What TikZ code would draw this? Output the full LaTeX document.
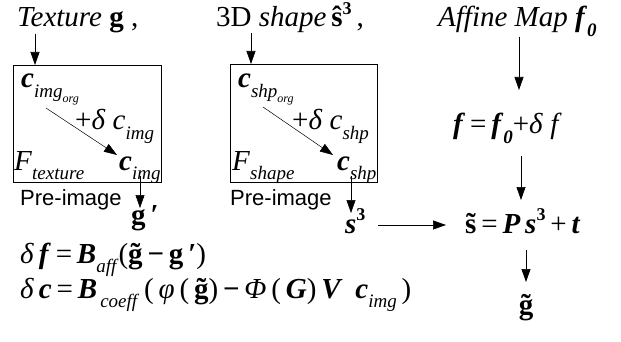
\documentclass[tikz,border=0pt]{standalone}
\usepackage{fontspec}
\setmainfont{Liberation Serif}
\setsansfont{Liberation Sans}
\usetikzlibrary{arrows.meta}
\newcommand\bi[1]{\textbf{\textit{#1}}}
\newcommand\sbs[1]{\raisebox{-0.32em}{\fontsize{19}{19}\selectfont\textit{#1}}}
\newcommand\ssbs[1]{\raisebox{-0.3em}{\fontsize{12}{12}\selectfont\textit{#1}}}
\newcommand\sps[1]{\raisebox{0.42em}{\fontsize{18}{18}\selectfont #1}}
\newcommand\tld[1]{\leavevmode\hbox{\ooalign{#1\cr\hidewidth\char"02DC\hidewidth\cr}}}
\begin{document}
\begin{tikzpicture}[x=1pt,y=-1pt,
  lbl/.style={anchor=base west,inner sep=0pt,font=\fontsize{29}{29}\selectfont},
  pre/.style={anchor=base west,inner sep=0pt,font=\sffamily\fontsize{22}{22}\selectfont},
  boxx/.style={draw,line width=0.8pt,inner sep=0pt},
  arr/.style={-{Triangle[length=13pt,width=9pt]},line width=0.7pt}]
\useasboundingbox (0,0) rectangle (621,342);
% titles
\node[lbl] (tex) at (17,27) {\textit{Texture} \textbf{g} ,};
\node[lbl] (shp) at (216,27) {3D \textit{shape}\,\textbf{\^s}\sps{\textbf{3}}\,,};
\node[lbl] (aff) at (438,27) {\textit{Affine Map} \bi{f}\sbs{\textbf{0}}};
% boxes
\node[boxx,minimum width=148pt,minimum height=117pt] (box1) at (87,123.5) {};
\node[boxx,minimum width=147pt,minimum height=118pt] (box2) at (303.5,123) {};
% box 1 contents
\node[lbl] (cio) at (21,88) {\bi{c}\sbs{img\ssbs{org}}};
\node[lbl] (dci) at (75,130) {+\textit{δ} \textit{c}\sbs{img}};
\node[lbl] (ftx) at (14,170) {\textit{F}\sbs{texture}};
\node[lbl] (ci) at (119,170) {\bi{c}\sbs{img}};
\coordinate (a1s) at (46,108); \coordinate (a1e) at (117,155);
\draw[arr,line width=0.5pt] (a1s) -- (a1e);
\node[pre] (pre1) at (20,205) {Pre-image};
\node[lbl] (gp) at (131,224) {\textbf{g}\,\textbf{′}};
\coordinate (t1) at (35,65);
\draw[arr] (tex.south -| t1) -- (t1);
\coordinate (b1) at (140,176); \coordinate (b1e) at (140,208);
\draw[arr,line width=0.5pt] (b1) -- (b1e);
% box 2 contents
\node[lbl] (cso) at (238,88) {\bi{c}\sbs{shp\ssbs{org}}};
\node[lbl] (dcs) at (292,130) {+\textit{δ} \textit{c}\sbs{shp}};
\node[lbl] (fsh) at (232,170) {\textit{F}\sbs{shape}};
\node[lbl] (cs) at (337,170) {\bi{c}\sbs{shp}};
\coordinate (a2s) at (263,107); \coordinate (a2e) at (333,155);
\draw[arr,line width=0.5pt] (a2s) -- (a2e);
\node[pre] (pre2) at (230,205) {Pre-image};
\node[lbl] (s3) at (345,233) {\bi{s}\sps{\textbf{3}}};
\coordinate (t2) at (251,64);
\draw[arr] (shp.south -| t2) -- (t2);
\coordinate (b2) at (351,176); \coordinate (b2e) at (351,213);
\draw[arr,line width=0.5pt] (b2) -- (b2e);
% right column
\node[lbl] (feq) at (453,134) {\bi{f}\,=\,\bi{f}\sbs{\textbf{0}}+\textit{δ} \textit{f}};
\node[lbl] (seq) at (465,233) {\textbf{\tld{s}}\,=\,\bi{P}\,\bi{s}\sps{\textbf{3}}\,+\,\bi{t}};
\node[lbl,anchor=base] (gt) at (526,314) {\textbf{\tld{g}}};
\coordinate (c1) at (519,90);
\draw[arr] (aff.south -| c1) -- (c1);
\coordinate (c2s) at (521,156); \coordinate (c2e) at (521,200);
\draw[arr] (c2s) -- (c2e);
\coordinate (c3s) at (526,250); \coordinate (c3e) at (526,282);
\draw[arr] (c3s) -- (c3e);
\coordinate (h1) at (378,225); \coordinate (h2) at (446,225);
\draw[arr] (h1) -- (h2);
% equations
\node[lbl] (eq1) at (20,263) {\textit{δ}\,\bi{f}\,=\,\bi{B}\sbs{aff}(\textbf{\tld{g}}\,\textbf{−}\,\textbf{g}\,\textbf{′})};
\node[lbl] (eq2) at (20,298) {\textit{δ}\,\bi{c}\,=\,\bi{B}\sbs{\,coeff}\,(\,\textit{φ}\,(\,\textbf{\tld{g}})\,\textbf{−}\,\textit{Φ}\,(\,\bi{G})\,\bi{V}\;\,\bi{c}\sbs{img}\,)};
\end{tikzpicture}
\end{document}
